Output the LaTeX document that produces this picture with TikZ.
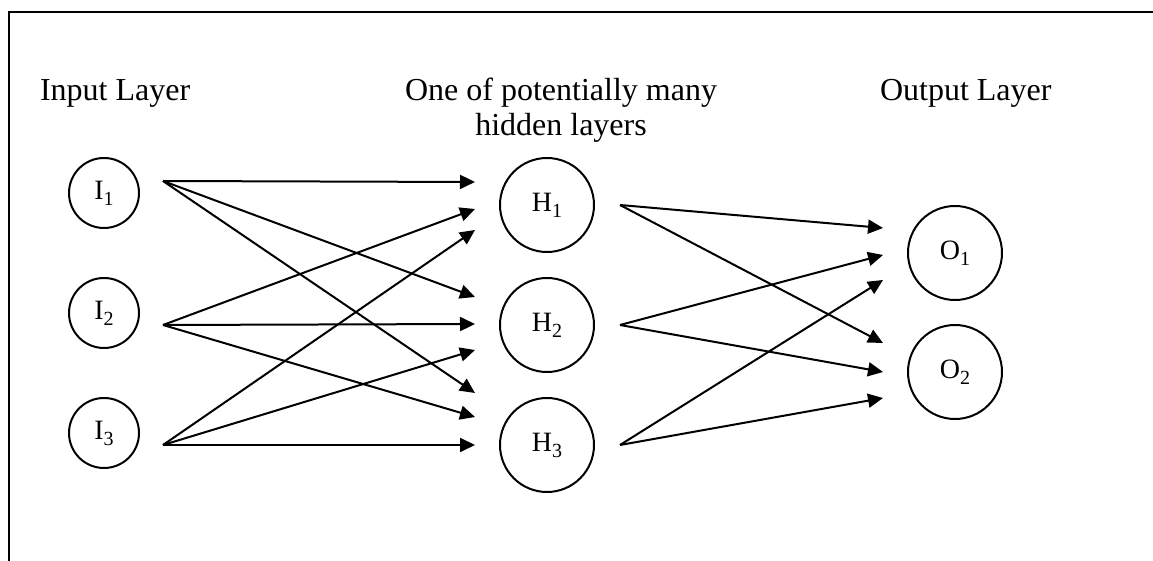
\documentclass[tikz,border=0pt]{standalone}
\usepackage{fontspec}
\setmainfont{Liberation Serif}
\usetikzlibrary{arrows.meta}
\newcommand{\lsub}[1]{\raisebox{-3pt}{\fontsize{10}{10}\selectfont #1}}

\begin{document}
\begin{tikzpicture}[x=0.5pt, y=-0.5pt, line width=1pt]
\tikzset{NeuronStyle/.style = {shape=circle, draw, inner sep=0pt, font=\fontsize{14}{15}\selectfont}}
\tikzset{InputNeuron/.style = {NeuronStyle, minimum size=35pt}}
\tikzset{WideNeuron/.style = {NeuronStyle, minimum size=47pt}}
\tikzset{WeightStyle/.style = {-{Triangle[length=7.5pt, width=7pt]}}}
\tikzset{LayerStyle/.style = {font=\fontsize{16}{17.5}\selectfont, align=center, inner sep=0pt}}
	\useasboundingbox (0,0) rectangle (1153,561);
	\draw (9,561) -- (9,12) -- (1153,12);
	% layer titles
	\node[LayerStyle, anchor=base west] (inlabel) at (39,101) {Input Layer};
	\node[LayerStyle, anchor=base] (hidlabel) at (561,136) {One of potentially many\\hidden layers};
	\node[LayerStyle, anchor=base west] (outlabel) at (879,101) {Output Layer};
	% neurons
	\node[InputNeuron] (I1) at (104,193) {I\lsub{1}};
	\node[InputNeuron] (I2) at (104,313) {I\lsub{2}};
	\node[InputNeuron] (I3) at (104,433) {I\lsub{3}};
	\node[WideNeuron] (H1) at (547,205) {H\lsub{1}};
	\node[WideNeuron] (H2) at (547,325) {H\lsub{2}};
	\node[WideNeuron] (H3) at (547,445) {H\lsub{3}};
	\node[WideNeuron] (O1) at (955,253) {O\lsub{1}};
	\node[WideNeuron] (O2) at (955,372) {O\lsub{2}};
	% connector ends
	\coordinate (I1out) at (163,181);
	\coordinate (I2out) at (163,325);
	\coordinate (I3out) at (163,445);
	\coordinate (H1a) at (475,182);
	\coordinate (H1b) at (475,209);
	\coordinate (H1c) at (475,230);
	\coordinate (H2a) at (475,297);
	\coordinate (H2b) at (475,324);
	\coordinate (H2c) at (475,350);
	\coordinate (H3a) at (475,393);
	\coordinate (H3b) at (475,417);
	\coordinate (H3c) at (475,445);
	\coordinate (H1out) at (620,205);
	\coordinate (H2out) at (620,325);
	\coordinate (H3out) at (620,445);
	\coordinate (O1a) at (883,228);
	\coordinate (O1b) at (883,255);
	\coordinate (O1c) at (883,280);
	\coordinate (O2a) at (883,343);
	\coordinate (O2b) at (883,372);
	\coordinate (O2c) at (883,398);
	% weights
	\draw[WeightStyle] (I1out) -- (H1a);
	\draw[WeightStyle] (I1out) -- (H2a);
	\draw[WeightStyle] (I1out) -- (H3a);
	\draw[WeightStyle] (I2out) -- (H1b);
	\draw[WeightStyle] (I2out) -- (H2b);
	\draw[WeightStyle] (I2out) -- (H3b);
	\draw[WeightStyle] (I3out) -- (H1c);
	\draw[WeightStyle] (I3out) -- (H2c);
	\draw[WeightStyle] (I3out) -- (H3c);
	\draw[WeightStyle] (H1out) -- (O1a);
	\draw[WeightStyle] (H1out) -- (O2a);
	\draw[WeightStyle] (H2out) -- (O1b);
	\draw[WeightStyle] (H2out) -- (O2b);
	\draw[WeightStyle] (H3out) -- (O1c);
	\draw[WeightStyle] (H3out) -- (O2c);
\end{tikzpicture}
\end{document}
